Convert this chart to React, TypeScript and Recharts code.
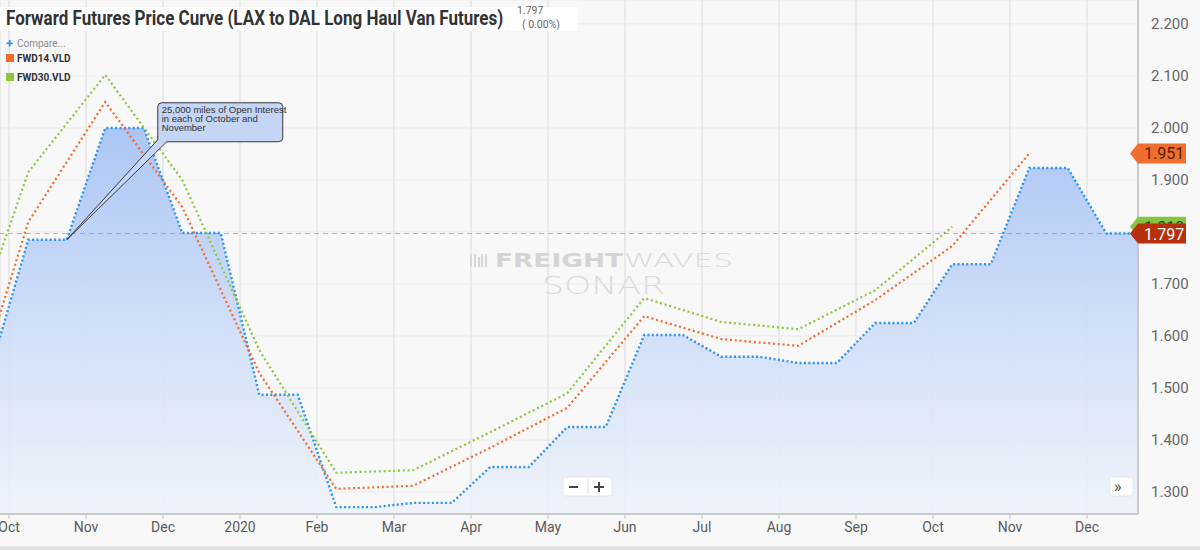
import React, { useLayoutEffect, useRef, useState } from 'react';
import {
  ComposedChart,
  Area,
  Line,
  XAxis,
  YAxis,
  CartesianGrid,
  ReferenceLine,
  ReferenceDot,
} from 'recharts';

// ---- Data ----
const monthTicks = [0, 1, 2, 3, 4, 5, 6, 7, 8, 9, 10, 11, 12, 13, 14];
const monthLabels = ['Oct', 'Nov', 'Dec', '2020', 'Feb', 'Mar', 'Apr', 'May', 'Jun', 'Jul', 'Aug', 'Sep', 'Oct', 'Nov', 'Dec'];
const priceTicks = [1.3, 1.4, 1.5, 1.6, 1.7, 1.8, 1.9, 2.0, 2.1, 2.2];

// Front curve (blue area), one value per contract month (month index 0 = Oct 2019)
const curveMonths = [-1, 0, 1, 2, 3, 4, 5, 6, 7, 8, 9, 10, 11, 12, 13, 14];
const curveValues = [1.53, 1.785, 2.0, 1.798, 1.487, 1.271, 1.279, 1.348, 1.425, 1.602, 1.56, 1.548, 1.625, 1.738, 1.923, 1.797];

// FWD14.VLD (orange)
const fwd14Months = [-1, 0, 1, 2, 3, 4, 5, 6, 7, 8, 9, 10, 11, 12, 13];
const fwd14Values = [1.338, 1.819, 2.05, 1.848, 1.529, 1.306, 1.312, 1.385, 1.462, 1.638, 1.594, 1.581, 1.669, 1.773, 1.951];

// FWD30.VLD (green)
const fwd30Months = [-1, 0, 1, 2, 3, 4, 5, 6, 7, 8, 9, 10, 11, 12];
const fwd30Values = [1.487, 1.915, 2.102, 1.9, 1.573, 1.337, 1.342, 1.415, 1.49, 1.673, 1.627, 1.613, 1.688, 1.81];

const lastPrice = 1.797;
const lastChange = '( 0.00%)';
const titleText = 'Forward Futures Price Curve (LAX to DAL Long Haul Van Futures)';
const annotationMonth = 0;
const annotationText = ['25,000 miles of Open Interest', 'in each of October and', 'November'];

// ---- Built for the library ----
const curveData = curveMonths.flatMap((m, i) => [
  { t: m + 0.25, v: curveValues[i] },
  { t: m + 0.75, v: curveValues[i] },
]);
const fwd14Data = fwd14Months.map((m, i) => ({ t: m + 0.25, v: fwd14Values[i] }));
const fwd30Data = fwd30Months.map((m, i) => ({ t: m + 0.25, v: fwd30Values[i] }));

const X_MIN = -0.117;
const X_MAX = 14.662;
const Y_MIN = 1.2577;
const Y_MAX = 2.246;

const BLUE = '#2a93f2';
const ORANGE = '#f26a2c';
const GREEN = '#8cc63f';
const FONT = 'Roboto, "Noto Sans", Arial, sans-serif';

const PriceTag = (props: any) => {
  const { cx, cy, fill, textFill, text } = props;
  if (cx == null || cy == null) return null;
  const h = 10;
  const pts = `${cx - 8},${cy} ${cx},${cy - h} ${cx + 48},${cy - h} ${cx + 48},${cy + h} ${cx},${cy + h}`;
  return (
    <g>
      <polygon points={pts} fill={fill} />
      <text x={cx + 6} y={cy + 6} fontSize={16} fontFamily={FONT} fill={textFill}>
        {text}
      </text>
    </g>
  );
};

const Callout = (props: any) => {
  const { cx, cy } = props;
  if (cx == null || cy == null) return null;
  const left = cx + 91;
  const top = cy - 137;
  const w = 125;
  const h = 39;
  const r = 4;
  const bottom = top + h;
  const right = left + w;
  const d = [
    `M ${left + r} ${top}`,
    `L ${right - r} ${top}`,
    `Q ${right} ${top} ${right} ${top + r}`,
    `L ${right} ${bottom - r}`,
    `Q ${right} ${bottom} ${right - r} ${bottom}`,
    `L ${left + 9} ${bottom}`,
    `L ${cx} ${cy}`,
    `L ${left} ${bottom - 2}`,
    `L ${left} ${top + r}`,
    `Q ${left} ${top} ${left + r} ${top}`,
    'Z',
  ].join(' ');
  return (
    <g>
      <path d={d} fill="#c4d5f6" stroke="#3a3a3a" strokeWidth={1} />
      {annotationText.map((line, i) => (
        <text key={i} x={left + 4} y={top + 10 + i * 9} fontSize={9.5} fontFamily={'"Liberation Sans", Arial, sans-serif'} fill="#333">
          {line}
        </text>
      ))}
    </g>
  );
};

const TITLE_WIDTH = 497;

function Title() {
  const ref = useRef<SVGTextElement | null>(null);
  const [scale, setScale] = useState(0.83);
  useLayoutEffect(() => {
    if (ref.current) {
      const w = ref.current.getComputedTextLength();
      if (w > 0) setScale(TITLE_WIDTH / w);
    }
  }, []);
  return (
    <g transform={`translate(6,25) scale(${scale},1)`}>
      <text ref={ref} x={0} y={0} fontSize={20} fontWeight={700} fontFamily={FONT} fill="#333">
        {titleText}
      </text>
    </g>
  );
}

export default function App() {
  return (
    <div style={{ position: 'absolute', left: 0, top: 0, width: 1200, height: 550, background: '#f8f8f8', overflow: 'hidden' }}>
      {/* watermark behind chart */}
      <svg width={1200} height={550} style={{ position: 'absolute', left: 0, top: 0 }}>
        <g fill="#d6d6d6">
          <rect x={470} y={254} width={2} height={13} />
          <rect x={474} y={254} width={2} height={13} />
          <rect x={478} y={257} width={2} height={10} />
          <rect x={481} y={254} width={2} height={13} />
          <rect x={485} y={254} width={2} height={13} />
        </g>
        <text x={495} y={267} fontSize={20} fontWeight={900} fontFamily={'"DejaVu Sans", Arial, sans-serif'} fill="#d4d4d4" textLength={128} lengthAdjust="spacingAndGlyphs">
          FREIGHT
        </text>
        <text x={624} y={267} fontSize={20} fontWeight={300} fontFamily={'"DejaVu Sans", Arial, sans-serif'} fill="#dadada" textLength={109} lengthAdjust="spacingAndGlyphs">
          WAVES
        </text>
        <text x={542} y={294} fontSize={24} fontWeight={200} fontFamily={'"DejaVu Sans", Arial, sans-serif'} fill="#dadada" textLength={123} lengthAdjust="spacingAndGlyphs">
          SONAR
        </text>
      </svg>

      <div style={{ position: 'absolute', left: 0, top: 0 }}>
        <ComposedChart width={1200} height={550} margin={{ top: 0, right: 0, bottom: 0, left: 0 }}>
          <defs>
            <linearGradient id="curveFill" x1="0" y1="0" x2="0" y2="1">
              <stop offset="0%" stopColor="#a8c3f5" stopOpacity={0.95} />
              <stop offset="55%" stopColor="#cfdef8" stopOpacity={0.9} />
              <stop offset="100%" stopColor="#eef3fb" stopOpacity={0.9} />
            </linearGradient>
          </defs>
          <CartesianGrid horizontal={false} stroke="#dadada" strokeWidth={1} />
          <CartesianGrid vertical={false} stroke="#ebebeb" strokeWidth={1} />
          <XAxis
            type="number"
            dataKey="t"
            domain={[X_MIN, X_MAX]}
            allowDataOverflow
            ticks={monthTicks}
            tickFormatter={(v: number) => monthLabels[v] ?? ''}
            height={36}
            axisLine={{ stroke: '#cacaca', strokeWidth: 2 }}
            tickLine={{ stroke: '#c4c4c4' }}
            tickSize={5}
            tickMargin={3}
            tick={{ fill: '#5a5a5a', fontSize: 14, fontFamily: FONT }}
            interval={0}
          />
          <YAxis
            orientation="right"
            type="number"
            domain={[Y_MIN, Y_MAX]}
            allowDataOverflow
            ticks={priceTicks}
            tickFormatter={(v: number) => (Math.abs(v - lastPrice) < 0.02 ? '' : v.toFixed(3))}
            width={62}
            axisLine={{ stroke: '#cacaca', strokeWidth: 2 }}
            tickLine={false}
            tickMargin={7}
            tick={{ fill: '#666', fontSize: 15, fontFamily: FONT }}
            interval={0}
          />
          <Area
            data={curveData}
            dataKey="v"
            type="linear"
            stroke={BLUE}
            strokeWidth={2.4}
            strokeDasharray="2 2.4"
            fill="url(#curveFill)"
            fillOpacity={1}
            dot={false}
            activeDot={false}
            isAnimationActive={false}
          />
          <Line
            data={fwd14Data}
            dataKey="v"
            type="linear"
            stroke={ORANGE}
            strokeWidth={2.2}
            strokeDasharray="2 2.8"
            dot={false}
            activeDot={false}
            isAnimationActive={false}
          />
          <Line
            data={fwd30Data}
            dataKey="v"
            type="linear"
            stroke={GREEN}
            strokeWidth={2.2}
            strokeDasharray="2 2.8"
            dot={false}
            activeDot={false}
            isAnimationActive={false}
          />
          <ReferenceLine y={lastPrice} stroke="#d46a55" strokeOpacity={0.6} strokeDasharray="5 4" strokeWidth={1} />
          <ReferenceDot
            x={annotationMonth + 0.75}
            y={curveValues[curveMonths.indexOf(annotationMonth)]}
            ifOverflow="visible"
            shape={(p: any) => <Callout {...p} />}
          />
          <ReferenceDot
            x={X_MAX}
            y={fwd14Values[fwd14Values.length - 1]}
            ifOverflow="visible"
            shape={(p: any) => <PriceTag {...p} fill="#ef6e2e" textFill="#5a1e05" text={fwd14Values[fwd14Values.length - 1].toFixed(3)} />}
          />
          <ReferenceDot
            x={X_MAX}
            y={fwd30Values[fwd30Values.length - 1]}
            ifOverflow="visible"
            shape={(p: any) => <PriceTag {...p} fill="#86c440" textFill="#2e4a10" text={fwd30Values[fwd30Values.length - 1].toFixed(3)} />}
          />
          <ReferenceDot
            x={X_MAX}
            y={lastPrice}
            ifOverflow="visible"
            shape={(p: any) => <PriceTag {...p} fill="#b5300b" textFill="#ffffff" text={lastPrice.toFixed(3)} />}
          />
        </ComposedChart>
      </div>

      {/* overlay: title, legend, controls */}
      <svg width={1200} height={550} style={{ position: 'absolute', left: 0, top: 0, pointerEvents: 'none' }}>
        <rect x={0} y={7} width={578} height={24} fill="#ffffff" />
        <Title />
        <text x={517} y={14} fontSize={10.5} fontFamily={FONT} fill="#666">{lastPrice.toFixed(3)}</text>
        <text x={522} y={28} fontSize={10.5} fontFamily={FONT} fill="#666">{lastChange}</text>

        <text x={6} y={48} fontSize={13} fontWeight={700} fontFamily={FONT} fill="#3b8ee8">+</text>
        <text x={17} y={47} fontSize={10} fontFamily={FONT} fill="#8a8a8a">Compare...</text>
        <rect x={6} y={54} width={8} height={8} fill={ORANGE} />
        <text x={17} y={62} fontSize={10} fontWeight={700} fontFamily={FONT} fill="#333">FWD14.VLD</text>
        <rect x={6} y={73} width={8} height={8} fill={GREEN} />
        <text x={17} y={81} fontSize={10} fontWeight={700} fontFamily={FONT} fill="#333">FWD30.VLD</text>

        <rect x={563} y={477} width={49} height={19} rx={2} fill="#ffffff" stroke="#e6e6e6" />
        <rect x={569} y={486} width={9} height={2} fill="#444" />
        <line x1={588} y1={479} x2={588} y2={494} stroke="#dddddd" />
        <rect x={594} y={486} width={10} height={2} fill="#444" />
        <rect x={598} y={482} width={2} height={10} fill="#444" />

        <rect x={1110} y={477} width={23} height={19} rx={2} fill="#ffffff" stroke="#e6e6e6" />
        <text x={1114} y={492} fontSize={16} fontFamily={FONT} fill="#444">»</text>

        <rect x={0} y={546} width={1200} height={4} fill="#e2e2e2" />
      </svg>
    </div>
  );
}
